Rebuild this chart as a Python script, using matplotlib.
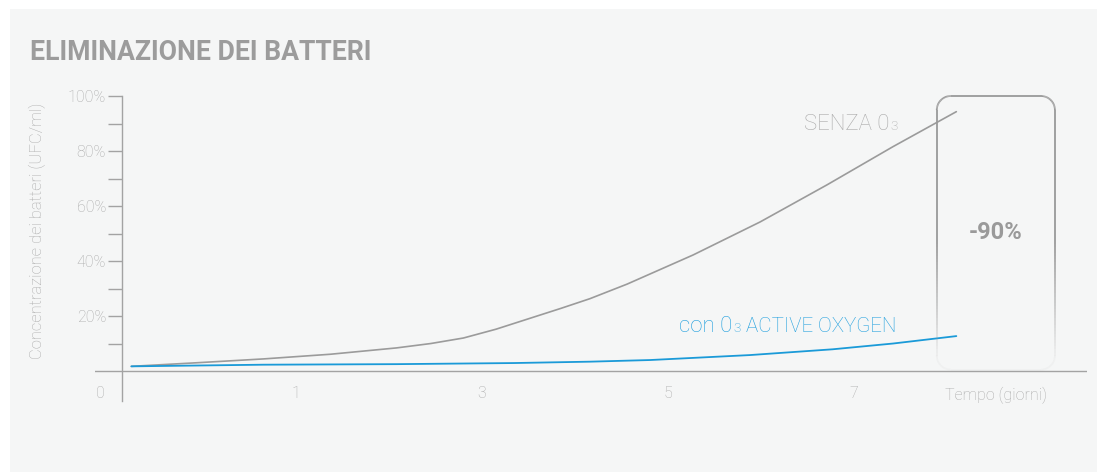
import numpy as np
import matplotlib.pyplot as plt
from matplotlib.collections import LineCollection
from matplotlib.patches import Rectangle

plt.rcParams['font.family'] = ['Roboto', 'DejaVu Sans']

# dati (giorni, % concentrazione)
days_senza = [-0.77, -0.07, 0.65, 1.37, 2.08, 2.45, 2.80, 3.15, 3.50, 3.85, 4.16,
              4.56, 5.27, 5.99, 6.71, 7.42, 8.10]
senza_o3 = [1.7, 3.0, 4.4, 6.1, 8.4, 10.0, 12.0, 15.2, 19.0, 22.8, 26.3,
            31.6, 42.2, 54.2, 67.7, 81.6, 94.3]
days_con = [-0.77, -0.07, 0.65, 2.08, 3.34, 4.16, 4.81, 5.88, 6.77, 7.42, 8.10]
con_o3 = [1.7, 2.0, 2.3, 2.5, 2.9, 3.4, 4.0, 5.8, 7.9, 10.0, 12.7]

y_ticks = [20, 40, 60, 80, 100]
y_minor = [10, 30, 50, 70, 90]
x_ticks = [1, 3, 5, 7]
origin_day = -0.87
box_days = (7.89, 9.16)
reduction = '-90%'

GRAY = '#9b9b9b'
BLUE = '#1a9ad8'
AXIS = '#a3a3a3'
TXT = '#ababab'

fig = plt.figure(figsize=(10.97, 4.72), dpi=100)
fig.patch.set_facecolor('white')
fig.patches.append(Rectangle((10 / 1097, 0), 1, 463 / 472, transform=fig.transFigure,
                             facecolor='#f5f6f6', edgecolor='none', zorder=-10))

ax = fig.add_axes([95 / 1097, 71 / 472, 992 / 1097, 305 / 472])
ax.patch.set_visible(False)
ax.set_xlim(-1.161, 9.505)
ax.set_ylim(-10.9, 100)

for s in ['top', 'right', 'bottom']:
    ax.spines[s].set_visible(False)
ax.spines['left'].set_position(('data', origin_day))
ax.spines['left'].set_bounds(-10.9, 100)
ax.spines['left'].set_color(AXIS)
ax.spines['left'].set_linewidth(1.0)
ax.axhline(0, color=AXIS, lw=1.0)

ax.set_yticks(y_ticks)
ax.set_yticklabels(['%d%%' % v for v in y_ticks])
ax.set_yticks(y_minor, minor=True)
ax.tick_params(axis='y', which='both', direction='out', length=10, width=1.0,
               color=AXIS, pad=1.5, labelsize=11.5, labelcolor=TXT)
for lab in ax.get_yticklabels():
    lab.set_fontweight('light')
ax.set_xticks([])

for d in x_ticks:
    ax.text(d, -8, str(d), ha='center', va='center', fontsize=11.5,
            color=TXT, fontweight='light')
ax.text(-1.1, -8, '0', ha='center', va='center', fontsize=11.5, color=TXT, fontweight='light')
ax.text(8.53, -9, 'Tempo (giorni)', ha='center', va='center', fontsize=11.5,
        color=TXT, fontweight='light')

ax.plot(days_senza, senza_o3, color=GRAY, lw=1.2, solid_capstyle='round')
ax.plot(days_con, con_o3, color=BLUE, lw=1.3, solid_capstyle='round')

# riquadro arrotondato che sfuma verso il basso
x0, x1 = box_days
y0, y1 = 0.5, 100
rx, ry = 14 / 93, 14 / 2.75
pts = []
t = np.linspace(0, np.pi / 2, 20)
pts += list(zip(x1 - rx + rx * np.cos(t), y1 - ry + ry * np.sin(t)))
pts += list(zip(x0 + rx - rx * np.cos(np.pi / 2 - t), y1 - ry + ry * np.sin(np.pi / 2 - t)))
pts += [(x0, y) for y in np.linspace(y1 - ry, y0 + ry, 80)]
pts += list(zip(x0 + rx - rx * np.cos(t), y0 + ry - ry * np.sin(t)))
pts += list(zip(x1 - rx + rx * np.sin(t), y0 + ry - ry * np.cos(t)))
pts += [(x1, y) for y in np.linspace(y0 + ry, y1 - ry, 80)]
pts = np.array(pts)
segs = np.stack([pts[:-1], pts[1:]], axis=1)
ym = segs[:, :, 1].mean(axis=1)
alpha = np.clip((ym - 2) / 45, 0.05, 1.0)
cols = [(0.6, 0.6, 0.6, a) for a in alpha]
lc = LineCollection(segs, colors=cols, linewidths=1.3, clip_on=False)
ax.add_collection(lc)

ax.text((x0 + x1) / 2, 50.5, reduction, ha='center', va='center', fontsize=17,
        fontweight='bold', color='#9a9a9a')

fig.text(30 / 1097, 1 - 52 / 472, 'ELIMINAZIONE DEI BATTERI', ha='left', va='center',
         fontsize=19.2, fontweight='bold', color='#9c9c9c')
fig.text(37 / 1097, 1 - 231 / 472, 'Concentrazione dei batteri (UFC/ml)', rotation=90,
         ha='center', va='center', fontsize=12, fontweight='light', color=TXT)

# etichette delle serie con pedice "3"
fig.canvas.draw()
r = fig.canvas.get_renderer()


def serie_label(x_px, y_px, before, after, color, size, size_after):
    sub = fig.text(x_px / 1097, 1 - y_px / 472, '3', ha='right', va='baseline',
                   fontsize=size * 0.6, color=color, fontweight='light')
    w = sub.get_window_extent(r).width
    fig.text((x_px - w - 1) / 1097, 1 - y_px / 472, before, ha='right', va='baseline',
             fontsize=size, color=color, fontweight='light')
    if after:
        fig.text((x_px + 5) / 1097, 1 - y_px / 472, after, ha='left', va='baseline',
                 fontsize=size_after, color=color, fontweight='light')


serie_label(898, 130, 'SENZA 0', '', '#aaaaaa', 16, 16)
serie_label(741, 332, 'con 0', 'ACTIVE OXYGEN', '#1f9fde', 16, 14.8)

plt.savefig('out.png', dpi=100)
